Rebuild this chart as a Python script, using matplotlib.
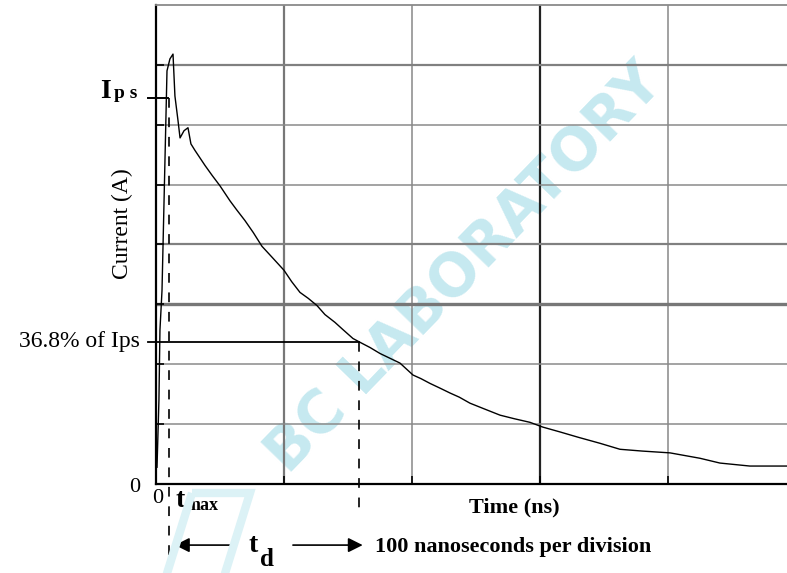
import matplotlib.pyplot as plt
from matplotlib.patches import Polygon

plt.rcParams['font.family'] = ['Liberation Serif', 'DejaVu Serif']
plt.rcParams['lines.scale_dashes'] = False

# pulse current trace (time in ns, current in grid divisions)
t_ns = [0.8, 2.3, 3.1, 4.7, 6.3, 8.6, 10.9, 13.3, 14.8, 17.2, 18.8, 21.9, 25.0,
        27.3, 30.5, 38.3, 44.0, 50.0, 57.8, 63.0, 69.5, 76.0, 82.8, 91.0,
        100.0, 106.0, 112.5, 119.0, 125.8, 132.0, 139.8, 146.0, 153.9, 160.0,
        167.2, 175.0, 182.8, 190.6, 200.8, 207.0, 214.1, 222.0, 229.7, 237.0,
        245.3, 257.0, 268.8, 280.0, 292.2, 302.3, 315.6, 330.0, 346.9, 362.5,
        380.0, 401.6, 425.0, 440.6, 464.0, 493.0]
current = [0.28, 1.40, 2.57, 3.23, 4.73, 6.90, 7.10, 7.18, 6.48, 6.07, 5.78,
           5.90, 5.95, 5.68, 5.57, 5.32, 5.15, 4.98, 4.73, 4.58, 4.40, 4.20,
           3.97, 3.78, 3.57, 3.38, 3.20, 3.10, 2.98, 2.83, 2.70, 2.58, 2.43,
           2.36, 2.28, 2.18, 2.10, 2.02, 1.82, 1.76, 1.68, 1.60, 1.52, 1.45,
           1.35, 1.25, 1.15, 1.09, 1.03, 0.95, 0.87, 0.78, 0.68, 0.58, 0.55,
           0.52, 0.43, 0.35, 0.30, 0.30]

ips = 6.45
ips_368 = 0.368 * ips
t_max = 10
t_d = 159
x_grid = [0, 100, 200, 300, 400]
y_grid = [0, 1, 2, 3, 4, 5, 6, 7, 8]

fig = plt.figure(figsize=(7.87, 5.73), dpi=100)
ax = fig.add_axes([0.1982, 0.1553, 0.8018, 0.836])
ax.set_xlim(0, 493)
ax.set_ylim(0, 8)

# grid
for x in x_grid[1:]:
    if x == 300:
        ax.axvline(x, color='#222222', lw=1.6, zorder=1)
    elif x == 100:
        ax.axvline(x, color='#777777', lw=1.6, zorder=1)
    else:
        ax.axvline(x, color='#888888', lw=1.1, zorder=1)
for y in y_grid[1:-1]:
    if y == 3:
        ax.axhline(y, color='#777777', lw=2.4, zorder=1)
    elif y in (4, 7):
        ax.axhline(y, color='#808080', lw=1.6, zorder=1)
    else:
        ax.axhline(y, color='#8a8a8a', lw=1.1, zorder=1)

ax.set_xticks(x_grid)
ax.set_yticks(y_grid[1:-1])
ax.tick_params(direction='in', length=6, width=1.2, labelbottom=False,
               labelleft=False, color='black')
ax.spines['right'].set_visible(False)
ax.spines['top'].set_color('#8a8a8a')
ax.spines['top'].set_linewidth(1.3)
ax.spines['left'].set_linewidth(1.6)
ax.spines['bottom'].set_linewidth(1.6)

# watermark
ax.text(0.49, 0.45, 'BC LABORATORY', transform=ax.transAxes, rotation=46,
        fontsize=42, fontweight='bold', family='DejaVu Sans', color='#c6e9f0',
        ha='center', va='center', zorder=0.2, clip_on=False)
fig.patches.append(Polygon([(192 / 787, 80 / 573), (250 / 787, 80 / 573),
                            (222 / 787, -10 / 573), (164 / 787, -10 / 573)],
                           closed=True, fill=False, edgecolor='#dcf2f6', lw=6,
                           transform=fig.transFigure, zorder=0))

# current trace
ax.plot(t_ns, current, color='black', lw=1.0, zorder=3)

# markers and reference lines
ax.plot([-6, 9.5], [ips, ips], color='black', lw=1.4, clip_on=False, zorder=3)
ax.plot([-6, t_d], [ips_368, ips_368], color='black', lw=1.3, clip_on=False,
        zorder=3)
ax.plot([t_max, t_max], [ips, -1.4], color='black', lw=1.2, dashes=(7, 7),
        clip_on=False, zorder=3)
ax.plot([t_d, t_d], [ips_368, -0.48], color='black', lw=1.2, dashes=(7, 7),
        clip_on=False, zorder=3)

# labels
ax.text(-44, 6.45, 'I', fontsize=20, fontweight='bold', ha='left',
        va='baseline', clip_on=False)
ax.text(-33, 6.45, 'p s', fontsize=14, fontweight='bold', ha='left',
        va='baseline', clip_on=False)
ax.text(-12.5, 2.28, '36.8% of Ips', fontsize=17, ha='right', va='baseline',
        clip_on=False)
ax.text(-26, 4.35, 'Current (A)', fontsize=17, rotation=90, ha='center',
        va='center', clip_on=False)
ax.text(-12.5, -0.13, '0', fontsize=16, ha='right', va='baseline',
        clip_on=False)
ax.text(1.2, -0.32, '0', fontsize=16, ha='center', va='baseline',
        clip_on=False)
ax.text(15.0, -0.38, 't', fontsize=20, fontweight='bold', ha='left',
        va='baseline', clip_on=False)
ax.text(23, -0.43, 'max', fontsize=13, fontweight='bold', ha='left',
        va='baseline', clip_on=False)
ax.text(280, -0.48, 'Time (ns)', fontsize=16, fontweight='bold', ha='center',
        va='baseline', clip_on=False)

# t_d arrows
ax.annotate('', xy=(14.8, -1.02), xytext=(62.5, -1.02), annotation_clip=False,
            arrowprops=dict(arrowstyle='-|>', mutation_scale=22, lw=1.2,
                            color='black', shrinkA=0, shrinkB=0))
ax.annotate('', xy=(161.5, -1.02), xytext=(107, -1.02), annotation_clip=False,
            arrowprops=dict(arrowstyle='-|>', mutation_scale=22, lw=1.2,
                            color='black', shrinkA=0, shrinkB=0))
ax.text(72, -1.13, 't', fontsize=20, fontweight='bold', ha='left',
        va='baseline', clip_on=False)
ax.text(81, -1.37, 'd', fontsize=18, fontweight='bold', ha='left',
        va='baseline', clip_on=False)
ax.text(171, -1.13, '100 nanoseconds per division', fontsize=16,
        fontweight='bold', ha='left', va='baseline', clip_on=False)

fig.savefig('out.png', dpi=100)
